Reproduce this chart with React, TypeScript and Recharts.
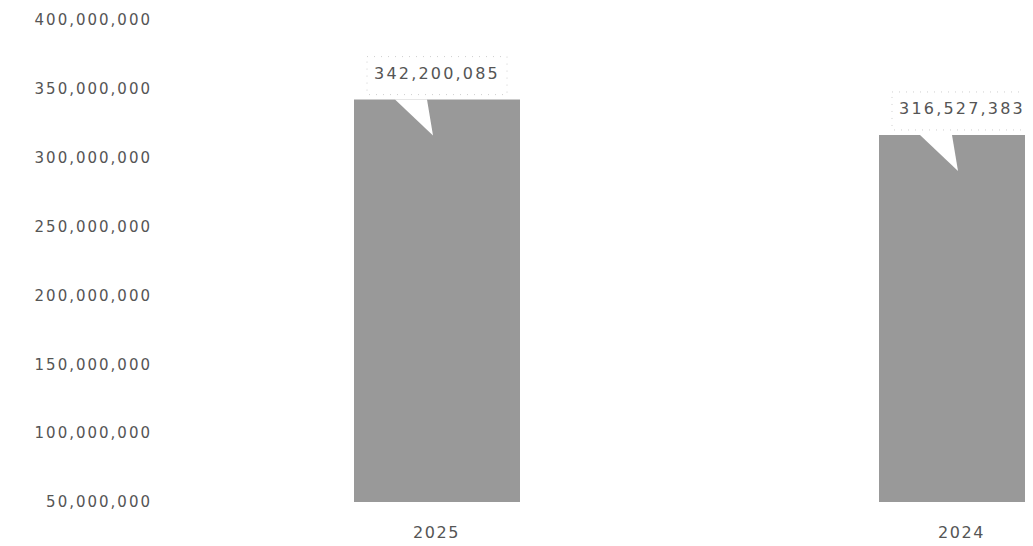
import { BarChart, Bar, XAxis, YAxis, LabelList } from 'recharts';

const years = ['2025', '2024'];
const totals = [342200085, 316527383];
const yTicks = [50000000, 100000000, 150000000, 200000000, 250000000, 300000000, 350000000, 400000000];

const data = years.map((year, i) => ({ year, total: totals[i] }));

const fmt = (v: number) => v.toLocaleString('en-US');

// callout box above each bar, with a white notch cut into the bar top
const Callout = (props: any) => {
  const { x, y, width, value } = props;
  const cx = x + width / 2;
  const notch = `${cx - 42},${y} ${cx - 10},${y} ${cx - 4},${y + 36}`;
  return (
    <g>
      <rect
        x={cx - 70}
        y={y - 43}
        width={140}
        height={38}
        fill="#fff"
        stroke="#cfcfcf"
        strokeWidth={1}
        strokeDasharray="1 6"
      />
      <polygon points={notch} fill="#fff" />
      <text
        x={cx}
        y={y - 26}
        textAnchor="middle"
        dominantBaseline="central"
        fontFamily="DejaVu Sans"
        fontSize={16}
        letterSpacing={2.2}
        fill="#555"
      >
        {fmt(value)}
      </text>
    </g>
  );
};

export default function App() {
  return (
    <BarChart
      width={1216}
      height={546}
      data={data}
      margin={{ top: 12, right: 0, bottom: 0, left: 0 }}
    >
      <XAxis
        dataKey="year"
        height={52}
        axisLine={false}
        tickLine={false}
        tickSize={0}
        tickMargin={25}
        tick={{ fontFamily: 'DejaVu Sans', fontSize: 16, letterSpacing: 1.6, fill: '#555' }}
      />
      <YAxis
        width={166}
        domain={[50000000, 400000000]}
        ticks={yTicks}
        allowDataOverflow
        axisLine={false}
        tickLine={false}
        tickSize={0}
        tickMargin={22}
        tickFormatter={fmt}
        tick={{ fontFamily: 'DejaVu Sans', fontSize: 15, letterSpacing: 2, fill: '#555' }}
      />
      <Bar dataKey="total" fill="#999999" barSize={166} isAnimationActive={false}>
        <LabelList dataKey="total" content={Callout} />
      </Bar>
    </BarChart>
  );
}
